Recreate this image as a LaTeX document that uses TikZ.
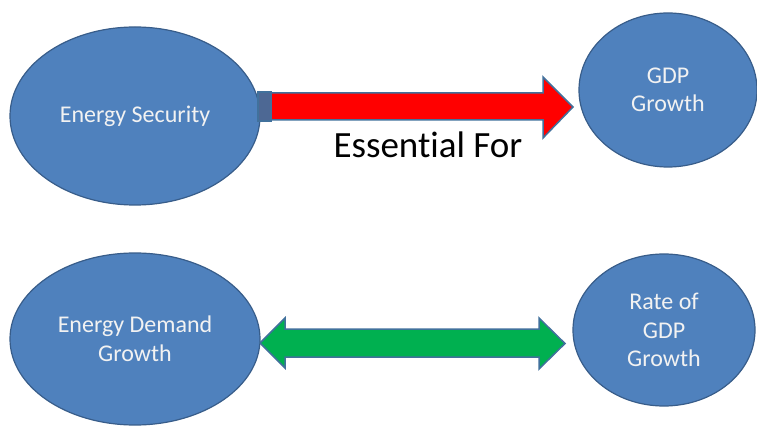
\documentclass[tikz,border=0pt]{standalone}
\usepackage{fontspec}
\setmainfont[Ligatures=NoCommon]{Carlito}
\usetikzlibrary{shapes.geometric}
\definecolor{bubblefill}{RGB}{79,129,189}
\definecolor{bubbleline}{RGB}{56,93,138}
\definecolor{arrowline}{RGB}{65,113,156}
\definecolor{redfill}{RGB}{255,0,0}
\definecolor{greenfill}{RGB}{0,176,80}
\definecolor{stubfill}{RGB}{77,104,148}
\tikzset{
  bubble/.style={ellipse, draw=bubbleline, line width=1.2pt, fill=bubblefill,
    text=white!95!black, align=center, inner sep=0pt,
    font=\fontsize{24}{28.5}\selectfont},
  blockarrow/.style={draw=arrowline, line width=1.5pt, line join=miter},
  caption/.style={font=\fontsize{37}{42}\selectfont, text=black, inner sep=0pt}
}
\begin{document}
\begin{tikzpicture}[x=1pt,y=-1pt]
  \useasboundingbox (0,0) rectangle (757,427);
  \fill[white] (0,0) rectangle (757,427);

  % the four bubbles
  \node[bubble, minimum width=250pt, minimum height=178pt] (es) at (135,116) {\raisebox{-3pt}{Energy Security}};
  \node[bubble, minimum width=178pt, minimum height=154pt] (gdp) at (668,90) {GDP\\Growth};
  \node[bubble, minimum width=250pt, minimum height=172pt] (edg) at (135,339) {Energy Demand\\Growth};
  \node[bubble, minimum width=182pt, minimum height=152pt] (rate) at (664,330) {Rate of\\GDP\\Growth};

  % red one-way block arrow from Energy Security to GDP Growth
  \fill[stubfill] (258,92) rectangle (271,121);
  \draw[blockarrow, fill=redfill]
    (271,93) -- (543,93) -- (543,77) -- (573,107) -- (543,138) -- (543,120) -- (271,120) -- cycle;
  \draw[arrowline, line width=1.5pt] (258,92) rectangle (271,121);
  \node[caption, anchor=base] (ef) at (428,158) {Essential For};

  % green two-way block arrow between the lower bubbles
  \draw[blockarrow, fill=greenfill]
    (260,343) -- (285,318) -- (285,329) -- (539,329) -- (539,318) -- (565,343.5)
    -- (539,369) -- (539,357) -- (285,357) -- (285,368) -- cycle;
\end{tikzpicture}
\end{document}
